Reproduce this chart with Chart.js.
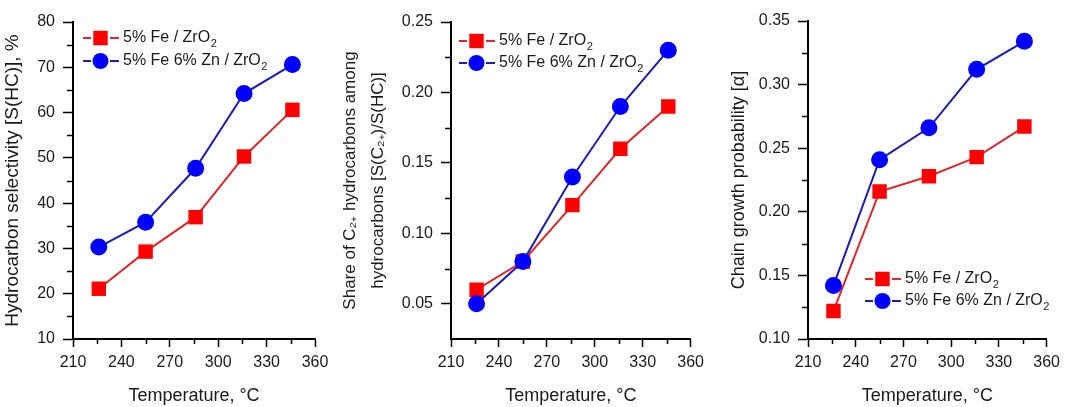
<!DOCTYPE html>
<html>
<head>
<meta charset="utf-8">
<script src="https://cdn.jsdelivr.net/npm/chart.js@4.4.1/dist/chart.umd.min.js"></script>
<style>
  html, body { margin: 0; padding: 0; background: #fff; }
  body { width: 1066px; height: 407px; position: relative; overflow: hidden; }
  .panel { position: absolute; top: 0; height: 407px; }
</style>
</head>
<body>
<div class="panel" style="left:0;width:335px"><canvas id="chartHC"></canvas></div>
<div class="panel" style="left:335px;width:375px"><canvas id="chartC2"></canvas></div>
<div class="panel" style="left:700px;width:366px"><canvas id="chartAlpha"></canvas></div>
<script>
// Reaction temperatures (°C)
const temps = [226, 255, 286, 316, 346];

// Hydrocarbon selectivity, %
const hcFe = [21.1, 29.3, 36.9, 50.3, 60.6];
const hcFeZn = [30.3, 35.8, 47.7, 64.2, 70.6];

// Share of C2+ among hydrocarbons
const c2Fe = [0.06, 0.08, 0.12, 0.16, 0.19];
const c2FeZn = [0.05, 0.08, 0.14, 0.19, 0.23];

// Chain growth probability (alpha)
const alphaFe = [0.122, 0.216, 0.228, 0.243, 0.267];
const alphaFeZn = [0.142, 0.241, 0.266, 0.312, 0.334];

const seriesLabels = ['5% Fe / ZrO2', '5% Fe 6% Zn / ZrO2'];

// Tick values
const xTicks = [210, 240, 270, 300, 330, 360];
const xMinor = [225, 255, 285, 315, 345];
const hcTicks = [10, 20, 30, 40, 50, 60, 70, 80];
const hcMinor = [15, 25, 35, 45, 55, 65, 75];
const c2Ticks = [0.05, 0.10, 0.15, 0.20, 0.25];
const c2Minor = [0.075, 0.125, 0.175, 0.225];
const alphaTicks = [0.10, 0.15, 0.20, 0.25, 0.30, 0.35];
const alphaMinor = [0.125, 0.175, 0.225, 0.275, 0.325];

const FONT = '"Liberation Sans", Arial, sans-serif';
const TEXT = '#1a1a1a';
Chart.defaults.font.family = FONT;
Chart.defaults.color = TEXT;

// short minor ticks between the labelled ones
const minorTicks = {
    id: 'minorTicks',
    afterDraw(chart, args, opts) {
        const ctx = chart.ctx;
        const xs = chart.scales.x, ys = chart.scales.y;
        ctx.save();
        ctx.strokeStyle = '#000';
        ctx.lineWidth = 1.5;
        ctx.beginPath();
        opts.x.forEach(v => {
            const px = Math.round(xs.getPixelForValue(v)) + 0.5;
            ctx.moveTo(px, xs.top);
            ctx.lineTo(px, xs.top + 5);
        });
        opts.y.forEach(v => {
            const py = Math.round(ys.getPixelForValue(v)) + 0.5;
            ctx.moveTo(ys.right, py);
            ctx.lineTo(ys.right - 6, py);
        });
        ctx.stroke();
        ctx.restore();
    }
};

// Origin-style legend: dash, marker, dash, label with subscript
const lineLegend = {
    id: 'lineLegend',
    afterDatasetsDraw(chart, args, opts) {
        const {ctx, chartArea} = chart;
        const x0 = chartArea.left + opts.x;
        const yBase = opts.y >= 0 ? chartArea.top + opts.y : chartArea.bottom + opts.y;
        ctx.save();
        chart.data.datasets.forEach((ds, i) => {
            const y = yBase + i * opts.gap;
            ctx.strokeStyle = ds.borderColor;
            ctx.lineWidth = 2;
            ctx.beginPath();
            ctx.moveTo(x0, y); ctx.lineTo(x0 + 8, y);
            ctx.moveTo(x0 + 27, y); ctx.lineTo(x0 + 36, y);
            ctx.stroke();
            ctx.fillStyle = ds.pointBackgroundColor;
            Chart.helpers.drawPoint(ctx, {
                pointStyle: ds.pointStyle,
                radius: ds.pointStyle === 'rect' ? 10.2 : 8,
                rotation: 0,
                borderWidth: 0
            }, x0 + 17.5, y);
            const m = ds.label.match(/^(.*?)(\d)$/);
            const main = m ? m[1] : ds.label;
            ctx.fillStyle = TEXT;
            ctx.textBaseline = 'middle';
            ctx.textAlign = 'left';
            ctx.font = '16px ' + FONT;
            ctx.fillText(main, x0 + 40, y);
            if (m) {
                const w = ctx.measureText(main).width;
                ctx.font = '11px ' + FONT;
                ctx.fillText(m[2], x0 + 40 + w + 0.5, y + 6);
            }
        });
        ctx.restore();
    }
};

function makeDatasets(fe, feZn) {
    return [
        {
            label: seriesLabels[0],
            data: temps.map((t, i) => ({x: t, y: fe[i]})),
            borderColor: '#e3262b',
            backgroundColor: '#ff0000',
            pointBackgroundColor: '#ff0000',
            pointBorderWidth: 0,
            pointStyle: 'rect',
            pointRadius: 10.2,
            borderWidth: 2,
            order: 1
        },
        {
            label: seriesLabels[1],
            data: temps.map((t, i) => ({x: t, y: feZn[i]})),
            borderColor: '#1c1cb8',
            backgroundColor: '#0000ff',
            pointBackgroundColor: '#0000ff',
            pointBorderWidth: 0,
            pointStyle: 'circle',
            pointRadius: 8.5,
            borderWidth: 2,
            order: 0
        }
    ];
}

function makeChart(id, cfg) {
    const ctx = document.getElementById(id);
    return new Chart(ctx, {
        type: 'line',
        data: { datasets: makeDatasets(cfg.fe, cfg.feZn) },
        plugins: [minorTicks, lineLegend],
        options: {
            responsive: true,
            maintainAspectRatio: false,
            animation: false,
            layout: { padding: cfg.padding },
            plugins: {
                legend: { display: false },
                tooltip: { enabled: false },
                minorTicks: { x: xMinor, y: cfg.yMinor },
                lineLegend: cfg.legend
            },
            scales: {
                x: {
                    type: 'linear',
                    min: 210,
                    max: 360,
                    afterBuildTicks: s => { s.ticks = xTicks.map(v => ({value: v})); },
                    afterFit: s => { s.height = 68; },
                    border: { color: '#000', width: 2 },
                    grid: { drawOnChartArea: false, tickLength: 8, tickColor: '#000', tickWidth: 1.5 },
                    ticks: { color: TEXT, font: { size: 16 }, padding: 6, maxRotation: 0, autoSkip: false },
                    title: {
                        display: true,
                        text: 'Temperature, °C',
                        color: TEXT,
                        font: { size: 18 },
                        padding: { top: 0, bottom: 0 }
                    }
                },
                y: {
                    type: 'linear',
                    min: cfg.yMin,
                    max: cfg.yMax,
                    afterBuildTicks: s => { s.ticks = cfg.yTicks.map(v => ({value: v})); },
                    afterFit: s => { s.width = cfg.yWidth; },
                    border: { color: '#000', width: 2 },
                    grid: { drawOnChartArea: false, tickLength: 10, tickColor: '#000', tickWidth: 1.5 },
                    ticks: {
                        color: TEXT,
                        font: { size: 16 },
                        padding: 8,
                        autoSkip: false,
                        callback: v => v.toFixed(cfg.decimals)
                    },
                    title: {
                        display: true,
                        text: cfg.yTitle,
                        color: TEXT,
                        font: cfg.yTitleFont,
                        padding: { top: cfg.yTitlePad, bottom: 0 }
                    }
                }
            }
        }
    });
}

makeChart('chartHC', {
    fe: hcFe, feZn: hcFeZn,
    yMin: 10, yMax: 80, yTicks: hcTicks, yMinor: hcMinor, decimals: 0,
    yTitle: 'Hydrocarbon selectivity [S(HC)], %',
    yTitleFont: { size: 19 }, yTitlePad: 1, yWidth: 73,
    padding: { top: 22, right: 20, bottom: 0, left: 0 },
    legend: { x: 10, y: 16, gap: 23 }
});

makeChart('chartC2', {
    fe: c2Fe, feZn: c2FeZn,
    yMin: 0.025, yMax: 0.25, yTicks: c2Ticks, yMinor: c2Minor, decimals: 2,
    yTitle: ['Share of C\u2082\u208A hydrocarbons among', 'hydrocarbons [S(C\u2082\u208A)/S(HC)]'],
    yTitleFont: { size: 17, lineHeight: 1.65 }, yTitlePad: 1, yWidth: 116,
    padding: { top: 22, right: 17, bottom: 0, left: 0 },
    legend: { x: 8, y: 19, gap: 22 }
});

makeChart('chartAlpha', {
    fe: alphaFe, feZn: alphaFeZn,
    yMin: 0.10, yMax: 0.35, yTicks: alphaTicks, yMinor: alphaMinor, decimals: 2,
    yTitle: 'Chain growth probability [\u03B1]',
    yTitleFont: { size: 18 }, yTitlePad: 28, yWidth: 108,
    padding: { top: 21, right: 16, bottom: 0, left: 0 },
    legend: { x: 57, y: -60, gap: 22 }
});
</script>
</body>
</html>
